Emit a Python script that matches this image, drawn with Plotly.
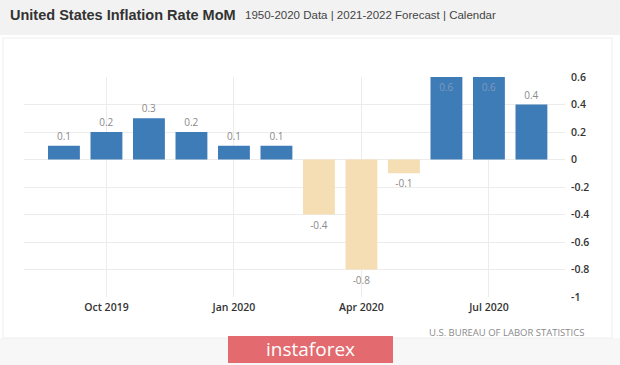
import plotly.graph_objects as go

months = ["Sep 2019", "Oct 2019", "Nov 2019", "Dec 2019", "Jan 2020", "Feb 2020",
          "Mar 2020", "Apr 2020", "May 2020", "Jun 2020", "Jul 2020", "Aug 2020"]
values = [0.1, 0.2, 0.3, 0.2, 0.1, 0.1, -0.4, -0.8, -0.1, 0.6, 0.6, 0.4]
x_ticks = ["Oct 2019", "Jan 2020", "Apr 2020", "Jul 2020"]
y_ticks = [0.6, 0.4, 0.2, 0, -0.2, -0.4, -0.6, -0.8, -1]
y_ticktext = ["0.6", "0.4", "0.2", "0", "-0.2", "-0.4", "-0.6", "-0.8", "-1"]

W, H = 620, 365
L, R, T, B = 24, 55, 77, 68
pw = W - L - R
ph = H - T - B


def px(x):
    return (x - L) / pw


def py(y):
    return (H - B - y) / ph


blue = "#3e7cb8"
wheat = "#f5deb3"
colors = [blue if v >= 0 else wheat for v in values]
positions = ["inside" if v >= 0.6 else "outside" for v in values]
labels = [f"{v:g}" for v in values]

fig = go.Figure()
fig.add_trace(go.Bar(
    x=months, y=values,
    marker=dict(color=colors, line=dict(width=0)),
    text=labels, textposition=positions,
    insidetextanchor="end",
    constraintext="none",
    outsidetextfont=dict(family="Open Sans", size=10, color="#8a8a8a"),
    insidetextfont=dict(family="Open Sans", size=10, color="#7f99b8"),
    cliponaxis=False,
    hoverinfo="skip",
))

fig.update_layout(
    width=W, height=H,
    margin=dict(l=L, r=R, t=T, b=B),
    paper_bgcolor="white", plot_bgcolor="white",
    showlegend=False,
    bargap=0.25,
    xaxis=dict(
        type="category", range=[-0.94, 11.79],
        tickvals=x_ticks, ticktext=x_ticks,
        showgrid=True, gridcolor="#ececec", gridwidth=1,
        showline=False, zeroline=False, ticks="",
        tickfont=dict(family="Open Sans", size=10.5, color="#333333", weight=600),
        ticklabelstandoff=2,
    ),
    yaxis=dict(
        side="right", range=[-1, 0.6],
        tickvals=y_ticks, ticktext=y_ticktext,
        showgrid=True, gridcolor="#ececec", gridwidth=1,
        zeroline=False, showline=False, ticks="",
        tickfont=dict(family="Open Sans", size=10.5, color="#333333", weight=600),
        ticklabelstandoff=5,
    ),
    font=dict(family="Open Sans"),
)

shapes = [
    # header band
    dict(type="rect", xref="paper", yref="paper", x0=px(0), x1=px(W), y0=py(35), y1=py(0),
         fillcolor="#f2f2f2", line=dict(width=0), layer="below"),
    # bottom band
    dict(type="rect", xref="paper", yref="paper", x0=px(0), x1=px(W), y0=py(H), y1=py(338),
         fillcolor="#f7f7f7", line=dict(width=0), layer="below"),
    # panel border
    dict(type="rect", xref="paper", yref="paper", x0=px(3), x1=px(612), y0=py(338), y1=py(38),
         fillcolor="rgba(0,0,0,0)", line=dict(width=1, color="#eeeeee"), layer="below"),
    # instaforex badge
    dict(type="rect", xref="paper", yref="paper", x0=px(228), x1=px(393), y0=py(363), y1=py(336),
         fillcolor="#e36b6f", line=dict(width=0), layer="above"),
]
fig.update_layout(shapes=shapes)

annotations = [
    dict(text="<b>United States Inflation Rate MoM</b>", x=px(8), y=py(15),
         xanchor="left", yanchor="middle", showarrow=False,
         font=dict(family="Liberation Sans", size=14.5, color="#333333")),
    dict(text="1950-2020 Data | 2021-2022 Forecast | Calendar", x=px(243), y=py(15),
         xanchor="left", yanchor="middle", showarrow=False,
         font=dict(family="Liberation Sans", size=11.5, color="#444444")),
    dict(text="U.S. BUREAU OF LABOR STATISTICS", x=px(586), y=py(332),
         xanchor="right", yanchor="middle", showarrow=False,
         font=dict(family="Open Sans", size=9.5, color="#8a8a8a")),
    dict(text="instaforex", x=px(310), y=py(349),
         xanchor="center", yanchor="middle", showarrow=False,
         font=dict(family="Open Sans", size=19, color="white")),
]
for a in annotations:
    a["xref"] = "paper"
    a["yref"] = "paper"
fig.update_layout(annotations=annotations)

fig.write_html(
    "out.html",
    config={"displayModeBar": False},
    post_script="document.body.style.margin='0';document.body.style.overflow='hidden';",
)
